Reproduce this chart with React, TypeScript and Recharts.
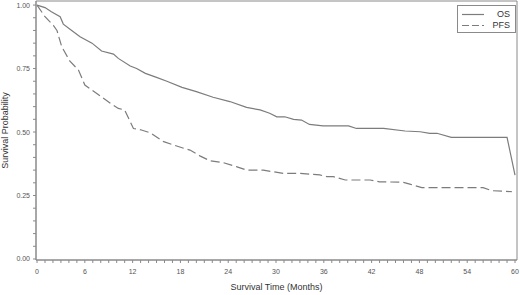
import React from "react";
import { LineChart, Line, XAxis, YAxis, ReferenceArea } from "recharts";

// Kaplan-Meier estimates
const osTime = [
  0, 1, 1.8, 2.9, 3.3, 4.35, 5.4, 6.9, 8.1, 9.6, 10.2, 11.7, 12.5, 13.6, 15,
  16.3, 18.2, 20, 22.1, 24.2, 26.3, 28, 29.2, 30.1, 31.1, 32.2, 33.2, 34.2,
  35.9, 39.1, 40.1, 43.5, 46.2, 48.1, 49.3, 50.2, 52, 59, 60,
];
const osSurv = [
  1.0, 0.99, 0.974, 0.954, 0.925, 0.9, 0.875, 0.85, 0.819, 0.807, 0.79, 0.76,
  0.75, 0.731, 0.715, 0.7, 0.676, 0.659, 0.637, 0.62, 0.597, 0.587, 0.574,
  0.56, 0.56, 0.55, 0.547, 0.53, 0.524, 0.524, 0.514, 0.514, 0.504, 0.501,
  0.495, 0.495, 0.479, 0.479, 0.33,
];

const pfsTime = [
  0, 1, 2.05, 2.5, 3.1, 4.1, 5.2, 6, 7.5, 9.2, 10.2, 11, 12.1, 13.1, 14.2,
  15.9, 18.4, 19.2, 20.5, 21.7, 23.4, 25.1, 26.3, 28.4, 30.9, 33, 34.7, 35.5,
  36.4, 37.2, 38.7, 41.8, 43, 46, 46.8, 48.3, 56, 57.1, 59.6,
];
const pfsSurv = [
  1.0, 0.954, 0.92, 0.9, 0.836, 0.78, 0.744, 0.685, 0.652, 0.613, 0.593, 0.587,
  0.514, 0.508, 0.497, 0.462, 0.436, 0.429, 0.405, 0.387, 0.379, 0.363, 0.35,
  0.35, 0.337, 0.337, 0.333, 0.331, 0.324, 0.324, 0.311, 0.311, 0.304, 0.302,
  0.295, 0.281, 0.281, 0.269, 0.265,
];

const xTicks = Array.from({ length: 61 }, (_, i) => i);
const yTicks = Array.from({ length: 21 }, (_, i) => i * 0.05);

const osData = osTime.map((t, i) => ({ t, s: osSurv[i] }));
const pfsData = pfsTime.map((t, i) => ({ t, s: pfsSurv[i] }));

const FONT = "'Liberation Sans', Arial, sans-serif";
const LINE = "#7c7c7c";
const FRAME = "#8a8a8a";

const XTick = ({ x, y, payload }: any) => {
  if (payload.value % 6 !== 0) return <g />;
  return (
    <text x={x} y={y + 9} textAnchor="middle" fontSize={7} fill="#555" fontFamily={FONT}>
      {payload.value}
    </text>
  );
};

const YTick = ({ x, y, payload }: any) => {
  const v = Math.round(payload.value * 100);
  if (v % 25 !== 0) return <g />;
  return (
    <text x={x - 1} y={y + 2.5} textAnchor="end" fontSize={7} fill="#555" fontFamily={FONT}>
      {(v / 100).toFixed(2)}
    </text>
  );
};

const legendItems = [
  { name: "OS", dash: undefined as string | undefined },
  { name: "PFS", dash: "7 3" },
];

const LegendBox = () => (
  <div
    style={{
      position: "absolute",
      left: 457,
      top: 5,
      width: 57,
      height: 26,
      border: `1px solid ${FRAME}`,
      background: "#fff",
      fontFamily: FONT,
      fontSize: 9,
      color: "#333",
    }}
  >
    {legendItems.map((item, i) => (
      <div key={item.name} style={{ position: "relative", height: 11, marginTop: i === 0 ? 3 : 0 }}>
        <svg width={22} height={11} style={{ position: "absolute", left: 4, top: 0 }}>
          <line x1={0} x2={22} y1={5.5} y2={5.5} stroke={LINE} strokeWidth={1.2} strokeDasharray={item.dash} />
        </svg>
        <span style={{ position: "absolute", right: 5, top: 0, lineHeight: "11px" }}>{item.name}</span>
      </div>
    ))}
  </div>
);

export default function App() {
  return (
    <div style={{ position: "absolute", left: 0, top: 0, width: 520, height: 295, background: "#fff" }}>
      <LineChart width={520} height={295} margin={{ top: 1, right: 3, bottom: 0, left: 0 }}>
        <XAxis
          type="number"
          dataKey="t"
          domain={[-0.13, 60.25]}
          ticks={xTicks}
          interval={0}
          allowDataOverflow
          height={35}
          stroke={FRAME}
          tickLine={{ stroke: FRAME }}
          tickSize={3}
          tick={<XTick />}
          label={{
            value: "Survival Time (Months)",
            position: "insideBottom",
            offset: 5,
            style: { fontSize: 9, fill: "#333", fontFamily: FONT },
          }}
        />
        <YAxis
          type="number"
          dataKey="s"
          domain={[-0.004, 1.016]}
          ticks={yTicks}
          interval={0}
          allowDataOverflow
          width={36}
          stroke={FRAME}
          tickLine={{ stroke: FRAME }}
          tickSize={3}
          tick={<YTick />}
          label={{
            value: "Survival Probability",
            angle: -90,
            position: "insideLeft",
            offset: 5,
            style: { fontSize: 9, fill: "#333", fontFamily: FONT, textAnchor: "middle" },
          }}
        />
        <ReferenceArea
          x1={-0.13}
          x2={60.25}
          y1={-0.004}
          y2={1.016}
          fill="none"
          stroke={FRAME}
          strokeWidth={1}
          ifOverflow="visible"
        />
        <Line
          name="OS"
          data={osData}
          dataKey="s"
          type="linear"
          stroke={LINE}
          strokeWidth={1.2}
          dot={false}
          isAnimationActive={false}
        />
        <Line
          name="PFS"
          data={pfsData}
          dataKey="s"
          type="linear"
          stroke={LINE}
          strokeWidth={1.2}
          strokeDasharray="9 4"
          dot={false}
          isAnimationActive={false}
        />
      </LineChart>
      <LegendBox />
    </div>
  );
}
